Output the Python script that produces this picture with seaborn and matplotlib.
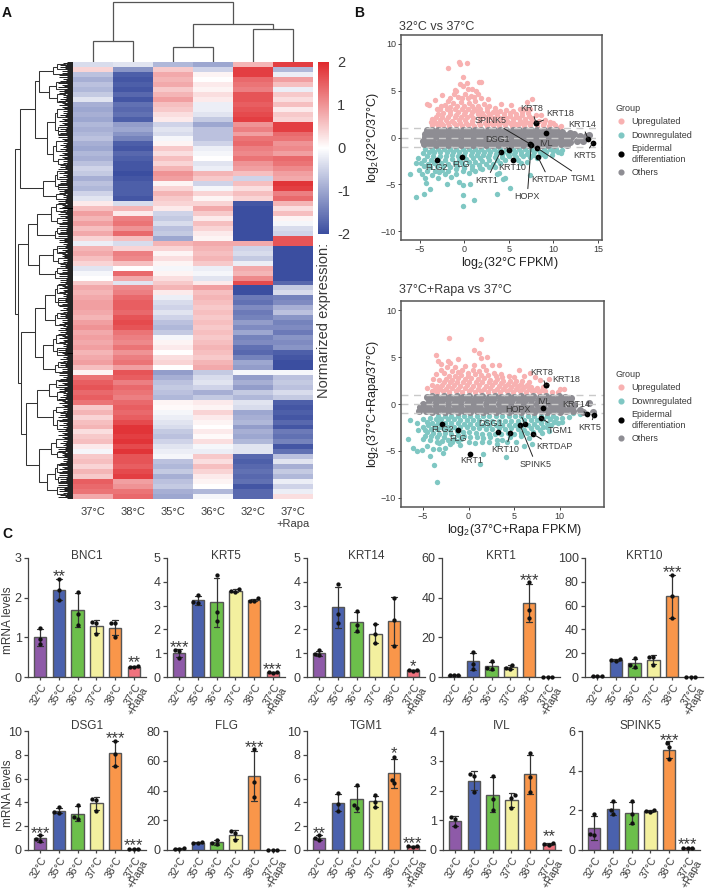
import matplotlib
matplotlib.use("Agg")
import matplotlib.pyplot as plt
from matplotlib.colors import LinearSegmentedColormap
from matplotlib.lines import Line2D
import numpy as np
import pandas as pd
import seaborn as sns

sns.set_style("white")
plt.rcParams['font.family'] = ['Liberation Sans', 'DejaVu Sans']
plt.rcParams['mathtext.fontset'] = 'custom'
plt.rcParams['mathtext.rm'] = 'Liberation Sans'
plt.rcParams['mathtext.default'] = 'regular'

W, H = 709, 890
TXT = '#3a3a3a'
DEG = '\u00b0C'

# ---------- panel A data ----------
HEAT_COLS = ['37' + DEG, '38' + DEG, '35' + DEG, '36' + DEG, '32' + DEG, '37' + DEG + '\n+Rapa']
HEAT = [
[-.4,-.3,-.8,-1,.7,1.8],[.4,-1.2,.5,-.5,1.8,-.8],[-.7,-1.8,.8,.1,1.8,-.2],[-.9,-1.9,.7,.0,1.4,.9],
[-.7,-1.8,.8,.2,1.3,.6],[-.8,-1.9,.5,.1,1.2,-.2],[-.6,-1.7,.7,.3,1.6,.5],[-.3,-1.9,.9,.2,1.6,.3],
[-.9,-1.6,.6,-.2,1.5,.6],[-1.0,-1.7,.5,-.2,1.6,.2],[-.9,-1.6,.3,-.3,1.7,.5],[-1.0,-1.8,.2,-.6,1.8,.4],
[-.8,-1.1,-.5,-1.0,1.0,1.8],[-.9,-1.0,-.3,-.7,1.2,1.8],[-.8,-1.2,-.4,-.7,.9,1.4],[-.7,-1.4,-.1,-.7,1.3,1.3],
[-.9,-1.8,.1,-.5,1.4,1.0],[-1.0,-1.9,.5,-.2,1.2,1.1],[-.8,-1.7,.3,-.1,1.1,.9],[-.9,-1.8,.6,-.0,1.3,1.4],
[-.7,-1.9,.4,-.3,1.0,1.3],[-.5,-1.9,.7,-.2,.9,1.1],[-.6,-2.0,1.0,.7,.6,.9],[-.9,-1.9,.9,.5,-.5,.8],
[-.7,-1.8,.1,-.5,.6,1.9],[-.8,-1.8,.4,-.1,.3,1.8],[-.5,-1.8,.7,.4,.6,1.2],[-.3,-1.9,.5,.1,.4,1.4],
[.2,-.4,.4,.4,-1.9,.7],[.6,.7,.2,.8,-2,.3],[.9,.2,-.5,.5,-2,.6],[.7,1.2,-.6,.2,-2,.1],
[.9,1.3,-.4,.6,-2,-.1],[.6,1.0,-.7,.4,-2,-.4],[.8,1.4,-.6,.2,-2,-.5],[.4,.6,-1,.1,-2,1.6],
[-.2,-.4,.7,.8,.8,1.6],[.7,.4,.4,.7,-.5,-2],[.8,1.2,.1,.6,-.4,-2],[.6,1.1,.3,.7,-.6,-2],
[.4,.6,.1,.5,-.2,-2],[-.3,0,-.1,-.2,.8,-2],[-.1,1.4,.1,-.1,.7,-2],[.0,.8,.3,-.3,1.1,-2],
[.5,-.3,.5,.2,1.7,-1.7],[.8,1.1,.7,.9,-2,-.6],[.7,1.2,.2,.6,-2,-.4],[.8,1.4,-.2,.7,-1.5,-1.4],
[.9,1.5,-.4,.6,-1.6,-1.3],[.9,1.5,-.5,.5,-1.3,-.9],[.8,1.4,-.3,.6,-1.5,-.7],[.7,1.6,-.5,.5,-1.4,-1.2],
[.9,1.7,-.7,.6,-1.1,-1.4],[1.0,1.6,-.8,.5,-1.3,-1.3],[.8,1.3,-.6,.6,-1.0,-1.5],[.9,1.2,-.1,.5,-1.4,-1.2],
[.8,1.1,.1,.6,-1.3,-1.3],[.9,1.3,.2,.7,-1.6,-1.2],[.7,1.0,.0,.6,-1.7,-1.8],[.8,1.2,.3,.5,-1.4,-1.9],
[.9,1.3,.4,.7,-1.0,-2],[.6,.9,.0,.8,-1.1,-2],[.1,1.6,-1.1,-.6,-.1,-.1],[1.3,1.5,-.9,-.4,-1.1,-.7],
[1.5,1.2,-.7,-.3,-.9,-.6],[1.6,1.4,-.6,-.5,-1.1,-.7],[1.4,1.3,-.7,-.9,-.6,-.4],[1.5,1.2,-.8,-.6,-.8,-.6],
[1.3,1.4,.1,.2,-.3,-1.8],[.5,1.5,.05,.1,-.4,-1.9],[.7,1.4,-.1,.4,-1,-1.8],[.4,1.5,-.2,.2,-.9,-1.9],
[.6,1.7,-.3,.1,-.8,-1.7],[.7,1.9,-.4,.0,-1.1,-1.9],[.3,1.9,-.6,.2,-.9,-1.5],[.5,1.8,-.7,.05,-1.0,-1.6],
[.6,1.9,-.5,.3,-.8,-1.4],[.2,1.7,-.3,-.1,-.3,-1.9],[-.1,1.9,-.2,-.2,-.3,-1.6],[.5,1.6,-.1,.5,-1.7,-.7],
[.6,1.6,-.7,.3,-1.8,-.3],[.4,1.5,-.8,.6,-1.7,-.9],[.7,1.7,-.6,.4,-1.6,-.6],[.5,1.8,-.9,.2,-1.7,-.8],
[1.5,.9,-.7,.1,-1.6,-.2],[1.4,1.0,-.6,.0,-1.9,-.5],[1.3,1.3,-.9,-.8,-1.7,-.2],[.8,1.4,-1,-.1,-1.7,.3],
]
# column dendrogram: (height, left, right); ints are columns
COL_TREE = (60, (21, 0, 1), (38, (15, 2, 3), (33, 4, 5)))
# row dendrogram: (height, upper, lower); ints are numbers of heat-map rows in a leaf
G1 = (53, (38, (34, (20, (16, 1, 1), 1), (24, (17, 2, 1), (16, 1, 2))),
               (26, (18, (16, 1, 2), (15, 2, 1)), (20, (17, 2, 2), (15, 1, 1)))),
      (30, (18, (16, 2, 1), (15, 1, 1)), (17, 1, 1)))
G2 = (36, (22, (17, 1, 2), (16, 1, 1)), (18, (16, 1, 1), 1))
G3 = (34, (20, (16, 2, 1), (15, 1, 1)), (18, (16, 1, 1), 1))
G4 = (38, (28, (18, (16, 2, 1), (15, 1, 2)), (18, (16, 1, 1), 2)),
      (30, (20, (17, 2, 1), (16, 1, 2)), (18, (15, 1, 1), 1)))
G5 = (47, (36, (24, (17, 2, 1), (16, 1, 2)), (20, (17, 1, 1), (16, 2, 2))),
      (34, (22, (17, 2, 1), (16, 1, 1)), (26, (18, (16, 2, 1), (15, 1, 1)), (16, 1, 2))))
ROW_TREE = (58, G1, (55, (45, G2, G3), (52, G4, G5)))
LEAF_DEPTHS = [6, 10, 7, 13, 8, 15, 6, 11, 9, 14]

# ---------- panel B data ----------
B1_UP = [(-.67,8.07),(-.52,7.9),(.34,7.93),(-1.87,7.4),(-.22,6.46),(-.5,5.75),(.3,5.8),(-.15,5.5),(1.65,5.96),(1.87,5.96),
(1.27,5),(.45,5.2),(-1.08,5.1),(-2.47,4.5),(-3.3,3.96),(-4.26,3.57),(-4,3.5),(-3.14,3),(-3.7,2),(-3.78,1.7),(7.6,4.1),(7.07,3.75),
(4.15,3.6),(5.27,3.5),(8.6,2.43),(10.7,1.1),(-1.2,4.6),(-.7,4.3),(.1,4.7),(.7,4.4),(1.5,4.6),(1.9,4.2),(-1.9,3.9),(-1.3,3.7),(-.4,3.8),
(.5,3.7),(1.2,3.9),(2.2,3.6),(2.8,3.4),(3.4,3.2),(-2.6,3.4),(-2,3.1),(-1.1,3),(-.3,3.1),(.4,3),(1.1,3.1),(1.8,3),(2.5,2.8),(3.2,2.7),(4,2.8),
(4.7,2.9),(5.5,2.8),(6.2,3),(6.8,3.1),(7.4,3),(-3,2.5),(-2.4,2.6),(-1.6,2.5),(-.9,2.4),(-.1,2.5),(.7,2.4),(1.5,2.5),(2.2,2.3),(3,2.2),(3.7,2.4),
(4.4,2.2),(5.1,2.3),(5.8,2.2),(6.5,2.4),(7.2,2.3),(8,2.4),(-3.4,1.8),(-2.8,1.9),(-2.1,1.9),(-1.4,1.8),(-.6,1.9),(.1,1.9),(.9,1.8),(1.7,1.9),
(2.5,1.7),(3.3,1.8),(4.1,1.7),(4.8,1.8),(5.5,1.7),(6.2,1.8),(6.9,1.7),(7.6,1.8),(8.4,1.8),(9,1.9),(9.6,1.7),(-3.6,1.3),(-3,1.25),(-2.4,1.3),
(-1.7,1.25),(-1,1.3),(-.3,1.25),(.4,1.3),(1.1,1.25),(1.8,1.3),(2.5,1.25),(3.2,1.3),(3.9,1.25),(4.6,1.3),(5.3,1.25),(6,1.3),(6.7,1.25),(7.4,1.3),
(8.1,1.25),(8.8,1.3),(9.5,1.25),(10.2,1.3),(10.9,1.2)]
B1_UP_FILL = [(-3.2,1.6),(-2.6,1.55),(-1.9,1.6),(-1.2,1.55),(-.5,1.6),(.2,1.55),(.9,1.5),(1.6,1.55),(2.3,1.5),(3,1.55),(3.7,1.5),(4.4,1.55),(5.1,1.5),(5.8,1.45),
(6.5,1.5),(7.2,1.5),(8.9,1.55),(9.9,1.5),(-3.2,2.2),(-2.5,2.2),(-1.8,2.15),(-1.1,2.15),(-.4,2.2),(.3,2.15),(1,2.1),(1.7,2.2),(2.5,2.1),(3.3,2.05),(4,2.05),(4.7,2.05),
(5.4,2),(6.1,2.05),(6.8,2),(7.5,2.05),(-2.7,3),(-1.6,2.8),(-.7,2.75),(.1,2.75),(.8,2.7),(1.4,2.85),(2,2.6),(2.8,2.5),(3.6,2.7),(4.4,2.55),(5.1,2.6),(5.8,2.5),(6.5,2.7),
(7.1,2.65),(-2.2,3.5),(-1.6,3.3),(-.8,3.4),(0,3.4),(.8,3.35),(1.5,3.4),(2.5,3.2),(-1.6,4.2),(-.3,4.2),(.4,4.2),(1.1,4.3),(2.6,4.1),(-.9,5),(.9,5.2)]
B1_DOWN = [(-6.13,-3.86),(-5.46,-6.4),(-4.5,-6),(-3.85,-5.5),(-.2,-5.07),(-.2,-6.1),(-.2,-7.3),(1.05,-6.7),(-.6,-4.8),(.6,-5),(3.66,-6),(5.15,-5.4),
(4.56,-4.3),(4.3,-4.4),(7.33,-4),(-2,-5),(-3,-4.35),(-4.3,-4.9),(-5.1,-3.5),(-5.4,-2.75),(3.6,-3.9),(3.9,-3.8),(-4.8,-3.9),(-4.4,-4.3),(-3.7,-4),
(-2.9,-3.7),(-2.2,-3.9),(-1.5,-4.2),(-.9,-3.9),(-.2,-3.6),(.5,-3.8),(1.2,-3.6),(2,-3.4),(-4.6,-3.1),(-3.9,-3.2),(-3.1,-3.1),(-2.4,-3.1),(-1.6,-3.2),
(-.8,-3),(0,-3),(.8,-3),(1.6,-2.9),(2.4,-2.8),(3.2,-2.8),(4,-2.7),(6.3,-2.7),(7,-2.6),(-5.2,-2.2),(-4.5,-2.4),(-3.8,-2.4),(-3,-2.3),(-2.2,-2.4),
(-1.4,-2.3),(-.6,-2.4),(.2,-2.3),(1,-2.2),(1.8,-2.2),(2.6,-2.1),(3.4,-2.1),(4.2,-2.1),(5,-2),(5.8,-2.1),(6.6,-2),(7.4,-2.1),(8.2,-2.2),(9,-2),(9.8,-1.9),
(10.9,-1.7),(-4.7,-1.7),(-4,-1.5),(-3.4,-1.6),(-2.7,-1.5),(-2,-1.6),(-1.3,-1.5),(-.6,-1.6),(.1,-1.5),(.8,-1.6),(1.5,-1.5),(2.2,-1.5),(2.9,-1.6),
(3.6,-1.5),(4.3,-1.5),(5,-1.6),(5.7,-1.5),(6.4,-1.5),(7.1,-1.6),(7.8,-1.5),(8.5,-1.5),(9.2,-1.5),(9.9,-1.4),(10.5,-1.5)]
B1_DOWN_FILL = [(-4.4,-1.25),(-3.7,-1.25),(-3,-1.2),(-2.3,-1.25),(-1.6,-1.2),(-.9,-1.25),(-.2,-1.2),(.5,-1.25),(1.2,-1.2),(1.9,-1.25),(2.6,-1.2),(3.3,-1.25),(4,-1.2),
(4.7,-1.25),(5.4,-1.2),(6.1,-1.25),(6.8,-1.2),(7.5,-1.25),(8.2,-1.2),(8.9,-1.25),(9.6,-1.2),(10.3,-1.2),(11,-1.3),(-4.2,-2),(-3.5,-1.95),(-2.8,-1.95),(-2.1,-2),(-1.4,-1.9),(-.7,-1.95),
(0,-1.9),(.7,-1.9),(1.4,-1.85),(2.1,-1.85),(2.8,-1.85),(3.5,-1.8),(4.2,-1.8),(4.9,-1.8),(5.6,-1.8),(6.3,-1.8),(7,-1.8),(7.7,-1.85),(8.7,-1.8),(-4.9,-2.7),(-4.1,-2.8),(-3.4,-2.7),(-2.6,-2.7),
(-1.9,-2.8),(-1.1,-2.7),(-.3,-2.7),(.5,-2.6),(1.2,-2.6),(2,-2.5),(2.8,-2.45),(3.6,-2.4),(4.5,-2.4),(6,-2.4),(-4.2,-3.6),(-3.3,-3.6),(-2.5,-3.5),(-1.8,-3.6),(-1,-3.4),(0,-3.3),(.9,-3.4),(1.7,-3.3),(2.7,-3.2),(3.4,-3.2)]
B1_OTHER = [(-4.2,.75),(-3.6,.8),(-3,.75),(-2.3,.8),(-1.6,.75),(-.9,.8),(-.2,.75),(.5,.8),(1.2,.75),(1.9,.8),(2.6,.75),(3.3,.8),(4,.75),(4.7,.8),(5.4,.75),
(6.1,.8),(6.8,.75),(7.5,.8),(8.2,.75),(8.9,.8),(9.6,.75),(10.3,.75),(11,.6),(-4.4,.05),(-3.7,-.05),(-3,.05),(-2.3,0),(-1.6,.05),(-.9,-.05),(-.2,.05),
(.5,0),(1.2,.05),(1.9,-.05),(2.6,.05),(3.3,0),(4,.05),(4.7,-.05),(5.4,.05),(6.1,0),(6.8,.05),(7.5,-.05),(8.2,.05),(8.9,0),(9.6,.05),(10.3,-.05),(11,.05),
(11.6,-.1),(-4.6,-.7),(-3.9,-.75),(-3.2,-.75),(-2.5,-.8),(-1.8,-.75),(-1.1,-.8),(-.4,-.75),(.3,-.8),(1,-.75),(1.7,-.8),(2.4,-.75),(3.1,-.8),(3.8,-.75),
(4.5,-.8),(5.2,-.75),(5.9,-.8),(6.6,-.75),(7.3,-.8),(8,-.75),(8.7,-.8),(9.4,-.75),(10.1,-.8),(10.8,-.7),(11.5,-.75),(-4.7,-.4),(12.3,.4),(12.6,-.35),
(13,.2),(13.3,-.4),(13.7,.2),(14,.3),(12,.1),(-4.4,.4),(11.8,.5)]
B1_OTHER_FILL = [(-4,.4),(-3.3,.4),(-2.6,.4),(-1.9,.4),(-1.2,.4),(-.5,.4),(.2,.4),(.9,.4),(1.6,.4),(2.3,.4),(3,.4),(3.7,.4),(4.4,.4),(5.1,.4),(5.8,.4),(6.5,.4),(7.2,.4),(7.9,.4),(8.6,.4),
(9.3,.4),(10,.4),(10.7,.4),(11.3,.3),(-4.2,-.4),(-3.5,-.4),(-2.8,-.4),(-2.1,-.4),(-1.4,-.4),(-.7,-.4),(0,-.4),(.7,-.4),(1.4,-.4),(2.1,-.4),(2.8,-.4),(3.5,-.4),(4.2,-.4),(4.9,-.4),
(5.6,-.4),(6.3,-.4),(7,-.4),(7.7,-.4),(8.4,-.4),(9.1,-.4),(9.8,-.4),(10.5,-.4),(11.2,-.4),(11.8,-.5)]
B1_MARK = {'FLG2':(-3.1,-2.43),'FLG':(-.3,-2.04),'KRT1':(4.07,-1.5),'KRT10':(5.4,-2.43),'DSG1':(5.05,-1.3),'SPINK5':(7.36,-.68),
'HOPX':(7.5,-.8),'IVL':(9.15,.43),'TGM1':(8.2,-1.14),'KRTDAP':(8.26,-2.1),'KRT8':(8.04,1.54),'KRT18':(8.04,1.54),'KRT14':(13.9,-.18),'KRT5':(14.43,-.54)}
B1_LABEL = {'FLG2':(-3.1,-3.2),'FLG':(-.35,-2.85),'KRT1':(2.47,-4.57),'KRT10':(5.4,-3.2),'DSG1':(3.66,-.25),'SPINK5':(2.95,1.8),
'HOPX':(7.05,-6.3),'IVL':(9.2,-.6),'TGM1':(13.35,-4.4),'KRTDAP':(9.5,-4.5),'KRT8':(7.55,3.07),'KRT18':(10.8,2.6),'KRT14':(13.2,1.43),'KRT5':(13.5,-1.96)}

B2_UP = [(-2.18,7),(1.4,6.9),(.55,5.7),(-3.54,5.2),(1.1,5.4),(-1.1,4.8),(-3.3,4.6),(-2.2,4.55),(-3,4.3),(1.4,4.9),(2,5),(2.6,4.2),(3.3,4.1),(5.5,3.6),(6.7,3.3),
(8.85,2.7),(10.5,1.6),(10,1.6),(-4.5,1.7),(-3.87,2.7),(-3.6,3.2),(-2.4,3.9),(-2.7,3.3),(-1.8,3.5),(-1.2,3.4),(-.7,3.6),(-.1,3.3),(.5,3.6),(1.1,3.5),
(1.9,3.6),(2.8,3.3),(3.6,3.2),(4.4,3),(6.1,3),(7.3,2.9),(7.8,2.6),(-3.2,2.6),(-2.5,2.7),(-1.8,2.6),(-1.1,2.8),(-.4,2.7),(.3,2.8),(1,2.7),(1.7,2.8),(2.4,2.6),
(3.1,2.7),(3.8,2.5),(4.5,2.4),(5.2,2.5),(5.9,2.4),(6.6,2.3),(-4,2),(-3.5,1.9),(-2.9,2),(-2.3,1.9),(-1.6,2),(-.9,1.9),(-.2,2),(.5,1.9),(1.2,2),(1.9,1.9),(2.6,2),
(3.3,1.9),(4,1.9),(4.7,1.8),(5.4,1.9),(6.1,1.8),(6.8,1.8),(7.5,1.7),(8.2,1.8),(-4,1.35),(-3.4,1.3),(-2.8,1.35),(-2.1,1.3),(-1.4,1.35),(-.7,1.3),(0,1.35),(.7,1.3),
(1.4,1.35),(2.1,1.3),(2.8,1.35),(3.5,1.3),(4.2,1.35),(4.9,1.3),(5.6,1.35),(6.3,1.3),(7,1.35),(7.7,1.3),(8.4,1.35),(9.1,1.3),(9.8,1.25)]
B2_UP_FILL = [(-3.7,1.6),(-3.1,1.6),(-2.5,1.6),(-1.8,1.65),(-1.1,1.6),(-.4,1.65),(.3,1.6),(1,1.6),(1.7,1.6),(2.4,1.65),(3.1,1.6),(3.8,1.6),(4.5,1.55),(5.2,1.6),(5.9,1.55),
(6.6,1.55),(7.3,1.5),(8,1.5),(-2.7,2.3),(-2,2.3),(-1.3,2.35),(-.6,2.35),(.1,2.35),(.8,2.3),(1.5,2.35),(2.2,2.3),(2.9,2.3),(3.6,2.2),(4.3,2.15),(5,2.15),(5.7,2.1),(6.4,2.05),
(-2.1,3),(-1.5,3),(-.8,3.1),(-.1,3),(.7,3.15),(1.4,3.1),(2.1,3.1),(3,3),(3.7,2.9),(5,2.9),(-1.5,3.9),(-.4,4),(.6,4.1),(1.6,4),(-3,3.6),(-2,4.4)]
B2_DOWN = [(-6.64,-3.75),(-6.46,-1.73),(-6.1,-4.73),(-5.6,-5),(-5.1,-4.9),(-4.17,-5.5),(-3.76,-6.5),(-3.5,-8.27),(1.3,-6.4),(1.6,-5.3),(4.06,-5.6),(6.1,-4.5),(7,-4.3),
(3.7,-3.85),(4.2,-4),(5.2,-4),(-2.6,-4.7),(-1.85,-4),(12.2,-1.1),(11.5,-1),(-5.5,-2.8),(-5,-3.7),(-4.6,-4.5),(-3.9,-4.8),(-3.2,-4.8),(-2.8,-5.2),(-4.2,-3.8),(-3.5,-4),(-2.9,-3.9),
(-2.2,-3.8),(-1.2,-3.9),(-5.6,-2),(-5,-2.4),(-4.5,-3),(-3.9,-3.1),(-3.2,-3.2),(-2.6,-3.1),(-1.9,-3.2),(-1.2,-3.3),(-.5,-3.4),(.2,-3.5),(.9,-3.5),(1.6,-3.6),(2.4,-3.5),(3.1,-3.8),(4.6,-3.5),
(5.8,-3.4),(6.6,-3.6),(8,-3.1),(8.8,-2.9),(-5,-1.6),(-4.4,-2.2),(-3.7,-2.3),(-3,-2.4),(-2.3,-2.4),(-1.6,-2.4),(-.9,-2.4),(-.2,-2.5),(.5,-2.6),(1.2,-2.6),(1.9,-2.7),(2.6,-2.7),(3.3,-2.6),
(4,-2.7),(4.7,-2.6),(5.4,-2.7),(6.1,-2.8),(6.8,-2.6),(7.5,-2.5),(8.2,-2.4),(9,-2.2),(9.8,-2),(-4.2,-1.5),(-3.6,-1.6),(-3,-1.6),(-2.3,-1.6),(-1.6,-1.6),(-.9,-1.7),(-.2,-1.7),(.5,-1.7),
(1.2,-1.7),(1.9,-1.8),(2.6,-1.8),(3.3,-1.8),(4,-1.8),(4.7,-1.8),(5.4,-1.8),(6.1,-1.7),(6.8,-1.7),(7.5,-1.7),(8.2,-1.6),(8.9,-1.6),(9.6,-1.5),(10.3,-1.5),(11,-1.4),(-3.3,-1.25),(-2.6,-1.25),
(-1.9,-1.25),(-1.2,-1.25),(-.5,-1.25),(.2,-1.25),(.9,-1.25),(1.6,-1.25),(2.3,-1.25),(3,-1.25),(3.7,-1.25),(4.4,-1.25),(5.1,-1.25),(5.8,-1.25),(6.5,-1.25),(7.2,-1.25),(7.9,-1.25),(8.6,-1.25),(9.3,-1.25)]
B2_DOWN_FILL = [(-4.6,-1.9),(-4,-2),(-3.3,-2),(-2.6,-2),(-1.9,-2),(-1.2,-2.05),(-.5,-2.1),(.2,-2.1),(.9,-2.15),(1.6,-2.2),(2.3,-2.25),(3,-2.25),(3.7,-2.25),(4.4,-2.25),(5.1,-2.25),(5.8,-2.3),(6.5,-2.2),
(7.2,-2.1),(7.9,-2),(8.6,-2),(9.4,-1.9),(10.2,-1.9),(-4.8,-2.8),(-4.1,-2.7),(-3.4,-2.7),(-2.7,-2.7),(-2,-2.8),(-1.3,-2.85),(-.6,-2.95),(.1,-3),(.8,-3.05),(1.5,-3.15),(2.2,-3.2),(2.9,-3.2),(3.6,-3.2),(4.3,-3.1),(5,-3.2),
(5.7,-3.1),(6.4,-3.1),(7.1,-3),(7.8,-2.8),(8.6,-2.5),(-4.8,-3.4),(-4.1,-3.45),(-3.4,-3.5),(-2.7,-3.5),(-1.6,-3.7),(-.8,-3.7),(0,-4),(.7,-4.1),(1.5,-4),(2.2,-4),(3.1,-4.3),(-3.2,-4.2),(-2,-4.3),(-.9,-4.4)]
B2_OTHER = [(-4.6,.75),(-4,.8),(-3.4,.75),(-2.7,.8),(-2,.75),(-1.3,.8),(-.6,.75),(.1,.8),(.8,.75),(1.5,.8),(2.2,.75),(2.9,.8),(3.6,.75),(4.3,.8),(5,.75),(5.7,.8),(6.4,.75),(7.1,.8),(7.8,.75),
(8.5,.8),(9.2,.75),(9.9,.8),(10.6,.75),(11.2,.6),(-5,.05),(-4.4,-.05),(-3.7,.05),(-3,0),(-2.3,.05),(-1.6,-.05),(-.9,.05),(-.2,0),(.5,.05),(1.2,-.05),(1.9,.05),(2.6,0),(3.3,.05),(4,-.05),(4.7,.05),
(5.4,0),(6.1,.05),(6.8,-.05),(7.5,.05),(8.2,0),(8.9,.05),(9.6,-.05),(10.3,.05),(11,0),(11.6,-.1),(-5.4,-.75),(-4.7,-.75),(-4,-.8),(-3.3,-.75),(-2.6,-.8),(-1.9,-.75),(-1.2,-.8),(-.5,-.75),(.2,-.8),(.9,-.75),
(1.6,-.8),(2.3,-.75),(3,-.8),(3.7,-.75),(4.4,-.8),(5.1,-.75),(5.8,-.8),(6.5,-.75),(7.2,-.8),(7.9,-.75),(8.6,-.8),(9.3,-.75),(10,-.8),(10.7,-.75),(11.4,-.7),(-5.3,-.3),(12.2,-.6),(12.6,-.8),(13.2,.1),(13.6,-.9)]
B2_OTHER_FILL = [(-4.3,.4),(-3.6,.4),(-2.9,.4),(-2.2,.4),(-1.5,.4),(-.8,.4),(-.1,.4),(.6,.4),(1.3,.4),(2,.4),(2.7,.4),(3.4,.4),(4.1,.4),(4.8,.4),(5.5,.4),(6.2,.4),(6.9,.4),(7.6,.4),(8.3,.4),
(9,.4),(9.7,.4),(10.4,.4),(11.1,.4),(-5,-.4),(-4.3,-.4),(-3.6,-.4),(-2.9,-.4),(-2.2,-.4),(-1.5,-.4),(-.8,-.4),(-.1,-.4),(.6,-.4),(1.3,-.4),(2,-.4),(2.7,-.4),(3.4,-.4),(4.1,-.4),(4.8,-.4),
(5.5,-.4),(6.2,-.4),(6.9,-.4),(7.6,-.4),(8.3,-.4),(9,-.4),(9.7,-.4),(10.4,-.4),(11.1,-.4)]
B2_MARK = {'FLG2':(-2.88,-2.08),'FLG':(-1.2,-2.8),'KRT1':(.18,-5.27),'KRT10':(4.6,-3.07),'DSG1':(3.28,-2.97),'SPINK5':(5.65,-2.26),'HOPX':(6.2,-2.12),
'IVL':(8.19,-.46),'TGM1':(7.9,-1.45),'KRTDAP':(7.08,-3.2),'KRT8':(8.45,1.98),'KRT18':(8.45,1.98),'KRT14':(12.95,-1.1),'KRT5':(13.76,-1.17)}
B2_LABEL = {'FLG2':(-2.8,-2.76),'FLG':(-1.18,-3.64),'KRT1':(.3,-6),'KRT10':(4.06,-4.84),'DSG1':(2.44,-2.05),'SPINK5':(7.38,-6.4),'HOPX':(5.42,-.57),
'IVL':(8.23,.25),'TGM1':(10,-2.8),'KRTDAP':(9.4,-4.56),'KRT8':(7.97,3.3),'KRT18':(10.7,2.65),'KRT14':(11.8,0),'KRT5':(13.25,-2.5)}

# ---------- panel C data ----------
CONDS = ['32', '35', '36', '37', '38', 'R']
COND_LABELS = ['32' + DEG, '35' + DEG, '36' + DEG, '37' + DEG, '38' + DEG, '37' + DEG + '\n+Rapa']
COND_COLORS = ['#8e5aa8', '#4a61ad', '#6cbf4b', '#f3f09f', '#f9964a', '#f0727e']
BNC1 = [[1.24,.95,.82],[2.47,2.2,1.93],[2.15,1.6,1.3],[1.38,1.36,1.08],[1.37,1.35,1.02],[.27,.26,.24]]
KRT5 = [[1.12,1.1,.8],[3.45,3.1,3.15],[4.3,2.75,2.35],[3.7,3.6,3.58],[3.3,3.2,3.2],[.22,.2,.15]]
KRT14 = [[1.12,.95,.93],[3.9,2.65,2.25],[2.78,2.2,1.95],[2.24,1.8,1.43],[3.33,2.4,1.3],[.3,.3,.27]]
KRT1 = [[1.2,1,.8],[12.6,6.7,4.2],[8,4.7,4.2],[6.2,4.7,4.2],[48,34,30],[.1,.1,.1]]
KRT10 = [[1.2,1,.9],[15,14.5,13.5],[16,10,8.5],[16.5,16.5,10],[86,68,49.5],[.1,.1,.1]]
DSG1 = [[1.3,.9,.75],[3.6,3.2,3.15],[3.8,2.8,2.6],[4.25,4.2,3.3],[9.2,8.1,7.1],[.05,.05,.05]]
FLG = [[1.2,.9,.8],[5.2,4.8,4.5],[7,4.5,4],[12.5,11.5,7],[68,45.5,35.5],[.1,.1,.1]]
TGM1 = [[1.3,1,.85],[4.75,3.9,3.3],[5.5,3.8,3.5],[4.6,4.05,3.65],[7.8,5.9,5.6],[.33,.32,.28]]
IVL = [[1.1,1.05,.8],[2.55,2.5,1.95],[2.5,1.7,1.35],[1.85,1.75,1.4],[3.25,2.45,1.95],[.22,.2,.18]]
SPINK5 = [[1.8,.8,.75],[2.45,2,1.8],[2.45,1.8,1.35],[2,1.95,1.9],[5.4,5.2,4.6],[.1,.1,.1]]

fig = plt.figure(figsize=(W / 100, H / 100), dpi=100)

def ax_px(l, t, r, b):
    return fig.add_axes([l / W, 1 - b / H, (r - l) / W, (b - t) / H])

def txt_px(x, y, s, **kw):
    kw.setdefault('color', TXT)
    return fig.text(x / W, 1 - y / H, s, **kw)

txt_px(2, 13, 'A', fontsize=10, fontweight='bold', color='#111', va='center')
txt_px(354, 13, 'B', fontsize=10, fontweight='bold', color='#111', va='center')
txt_px(2, 534, 'C', fontsize=10, fontweight='bold', color='#111', va='center')

# ---------- heat map ----------
cmap = LinearSegmentedColormap.from_list('bwr2', ['#3b4ea0', '#ffffff', '#e02a2e'])
ax_h = ax_px(73, 62, 313, 499)
ax_cb = ax_px(318, 62, 329, 234)
heat_df = pd.DataFrame(HEAT, columns=HEAT_COLS)
sns.heatmap(heat_df, ax=ax_h, cmap=cmap, vmin=-2, vmax=2, cbar_ax=ax_cb, yticklabels=False, xticklabels=True,
            cbar_kws={'ticks': [-2, -1, 0, 1, 2]})
ax_h.tick_params(axis='x', length=0, labelsize=8, labelcolor=TXT, rotation=0, pad=6)
ax_h.tick_params(axis='y', length=0)
ax_h.set_xlabel(''); ax_h.set_ylabel('')
ax_cb.tick_params(length=0, labelsize=10.5, labelcolor=TXT, pad=6)
ax_cb.set_yticklabels(['-2', '-1', '0', '1', '2'])
txt_px(324, 320, 'Normarized expression:', rotation=90, fontsize=10.5, ha='center', va='center')

# column dendrogram
ax_dc = ax_px(73, 0, 313, 62)
ax_dc.set_xlim(0, 6); ax_dc.set_ylim(0, 62); ax_dc.axis('off')
def draw_col(node):
    if isinstance(node, int):
        return node + .5, 0
    h, a, b = node
    xa, ya = draw_col(a); xb, yb = draw_col(b)
    ax_dc.plot([xa, xa, xb, xb], [ya, h, h, yb], color='#555', lw=.9, solid_joinstyle='miter')
    return (xa + xb) / 2, h
draw_col(COL_TREE)

# row dendrogram
ax_dr = ax_px(0, 62, 73, 499)
ax_dr.set_xlim(73, 0); ax_dr.set_ylim(len(HEAT), 0); ax_dr.axis('off')
cursor = [0]
def draw_row(node):
    if isinstance(node, int):
        start = cursor[0]
        cursor[0] += node
        n_lines = node * 5
        for i in range(n_lines):
            d = LEAF_DEPTHS[(start * 3 + i) % len(LEAF_DEPTHS)]
            yy = start + (i + .5) / 5
            ax_dr.plot([0, d], [yy, yy], color='#000', lw=.62, solid_capstyle='butt')
        return start + node / 2, 8.0
    h, a, b = node
    ya, da = draw_row(a); yb, db = draw_row(b)
    ax_dr.plot([da, h, h, db], [ya, ya, yb, yb], color='#333', lw=.75, solid_joinstyle='miter')
    return (ya + yb) / 2, h
draw_row(ROW_TREE)

# ---------- MA plots ----------
C_UP, C_DOWN, C_OTHER = '#f8b1b1', '#7fc7c3', '#8e8d93'

def ma_plot(box, xlim, ylim, xt, up, down, other, marks, labels, title, title_xy, ylab, ylab_x, xlab, xlab_xy, legend_y, nolines):
    ax = ax_px(*box)
    for pts, col, s in ((up, C_UP, 15), (down, C_DOWN, 15), (other, C_OTHER, 26)):
        d = pd.DataFrame(pts, columns=['x', 'y'])
        sns.scatterplot(data=d, x='x', y='y', color=col, s=s, linewidth=0, ax=ax, clip_on=True)
    for v in (-1, 0, 1):
        ax.axhline(v, color='#c9c9c9', lw=1, dashes=(5, 4))
    d = pd.DataFrame(list(marks.values()), columns=['x', 'y'])
    sns.scatterplot(data=d, x='x', y='y', color='#000', s=17, linewidth=0, ax=ax, zorder=5)
    for name, xy in marks.items():
        lab = labels[name]
        ap = None if name in nolines else dict(arrowstyle='-', color='#222', lw=.7, shrinkA=0, shrinkB=0)
        ax.annotate(name, xy=xy, xytext=lab, fontsize=6.5, color=TXT, ha='center', va='center', arrowprops=ap, zorder=6)
    ax.set_xlim(*xlim); ax.set_ylim(*ylim)
    ax.set_xticks(xt); ax.set_yticks([-10, -5, 0, 5, 10])
    ax.set_xticklabels([str(v).replace('-', '\u2212') for v in xt])
    ax.set_yticklabels(['\u221210', '\u22125', '0', '5', '10'])
    ax.tick_params(axis='both', labelsize=6.5, labelcolor=TXT, length=2.2, width=.7, color='#444', pad=1.5, bottom=True, left=True)
    ax.set_xlabel(''); ax.set_ylabel('')
    for sp in ax.spines.values():
        sp.set_color('#555'); sp.set_linewidth(1.1)
    txt_px(title_xy[0], title_xy[1], title, fontsize=9, va='center')
    txt_px(ylab_x, (box[1] + box[3]) / 2, ylab, fontsize=9, rotation=90, ha='center', va='center', color='#222')
    txt_px(xlab_xy[0], xlab_xy[1], xlab, fontsize=9, ha='center', va='center', color='#222')
    handles = [Line2D([], [], marker='o', ls='', color=c, ms=3.4) for c in (C_UP, C_DOWN, '#000', C_OTHER)]
    leg = fig.legend(handles, ['Upregulated', 'Downregulated', 'Epidermal\ndifferentiation', 'Others'], title='Group',
                     loc='upper left', bbox_to_anchor=(614 / W, 1 - legend_y / H), frameon=False, fontsize=6.5,
                     title_fontsize=6.5, alignment='left', labelspacing=.5, handletextpad=.55, handlelength=1.2,
                     labelcolor=TXT, borderaxespad=0, borderpad=.2)
    leg.get_title().set_color(TXT)

ma_plot((401, 35, 602, 240), (-7.13, 15.45), (-10.96, 10.96), [-5, 0, 5, 10, 15], B1_UP + B1_UP_FILL, B1_DOWN + B1_DOWN_FILL, B1_OTHER + B1_OTHER_FILL, B1_MARK, B1_LABEL,
        '32' + DEG + ' vs 37' + DEG, (399, 27), 'log$_2$(32' + DEG + '/37' + DEG + ')', 373,
        'log$_2$(32' + DEG + ' FPKM)', (510, 263), 102, {'FLG2', 'FLG', 'KRT10', 'IVL'})
ma_plot((401, 301, 604, 507), (-7.4, 14.85), (-10.96, 10.96), [-5, 0, 5, 10], B2_UP + B2_UP_FILL, B2_DOWN + B2_DOWN_FILL, B2_OTHER + B2_OTHER_FILL, B2_MARK, B2_LABEL,
        '37' + DEG + '+Rapa vs 37' + DEG, (399, 290), 'log$_2$(37' + DEG + '+Rapa/37' + DEG + ')', 373,
        'log$_2$(37' + DEG + '+Rapa FPKM)', (514, 530), 368, {'FLG2', 'FLG', 'KRT1', 'IVL'})

# ---------- bar panels ----------
def bar_panel(left, top, bottom, title, reps, ymax, ticks, stars, title_gap, ylab=False):
    ax = ax_px(left, top, left + 118, bottom)
    long = pd.DataFrame([(c, v) for c, vals in zip(CONDS, reps) for v in vals], columns=['cond', 'val'])
    sns.barplot(data=long, x='cond', y='val', hue='cond', order=CONDS, hue_order=CONDS, palette=COND_COLORS, saturation=1,
                width=.67, errorbar='sd', capsize=.3, err_kws={'color': '#333', 'linewidth': .9},
                edgecolor='#555', linewidth=1, legend=False, ax=ax)
    sns.swarmplot(data=long, x='cond', y='val', order=CONDS, color='#111', size=3.1, ax=ax, zorder=5, clip_on=False, warn_thresh=1)
    ax.set_xlim(-.64, 5.64); ax.set_ylim(0, ymax)
    ax.set_yticks(ticks)
    ax.set_xticks(range(6))
    ax.set_xticklabels(COND_LABELS, rotation=60, ha='right', rotation_mode='anchor', fontsize=7.4, linespacing=.72)
    ax.tick_params(axis='y', labelsize=9, labelcolor=TXT, length=3, width=.9, color='#444', pad=1.5, left=True)
    ax.tick_params(axis='x', labelcolor=TXT, length=2.5, width=.9, color='#444', pad=1, bottom=True)
    ax.set_xlabel(''); ax.set_ylabel('')
    sns.despine(ax=ax)
    for s in ('left', 'bottom'):
        ax.spines[s].set_color('#444'); ax.spines[s].set_linewidth(.9)
    ax.text(.5, 1 + title_gap, title, transform=ax.transAxes, ha='center', va='center', fontsize=8.5, color=TXT)
    for idx, val, s in stars:
        ax.annotate(s, xy=(idx, val), xytext=(0, -6.7), textcoords='offset points', ha='center', va='baseline',
                    fontsize=12, color=TXT, annotation_clip=False, zorder=6)
    if ylab:
        txt_px(8, (top + bottom) / 2 + 3, 'mRNA levels', rotation=90, fontsize=8.5, ha='center', va='center')

T1, B_1, T2, B_2 = 558, 677, 731, 850
bar_panel(28, T1, B_1, 'BNC1', BNC1, 3, [0, 1, 2, 3], [(1, 2.65, '**'), (5, .48, '**')], .017, True)
bar_panel(167, T1, B_1, 'KRT5', KRT5, 5, range(6), [(0, 1.44, '***'), (5, .53, '***')], .017)
bar_panel(307, T1, B_1, 'KRT14', KRT14, 5, range(6), [(5, .63, '*')], .017)
bar_panel(442, T1, B_1, 'KRT1', KRT1, 60, [0, 20, 40, 60], [(4, 51, '***')], .017)
bar_panel(585, T1, B_1, 'KRT10', KRT10, 100, [0, 20, 40, 60, 80, 100], [(4, 92, '***')], .017)
bar_panel(28, T2, B_2, 'DSG1', DSG1, 10, [0, 2, 4, 6, 8, 10], [(0, 1.74, '***'), (4, 9.8, '***'), (5, .76, '***')], .04, True)
bar_panel(167, T2, B_2, 'FLG', FLG, 80, [0, 20, 40, 60, 80], [(4, 72, '***')], .04)
bar_panel(307, T2, B_2, 'TGM1', TGM1, 10, [0, 2, 4, 6, 8, 10], [(0, 1.82, '**'), (4, 8.5, '*'), (5, .98, '***')], .04)
bar_panel(443, T2, B_2, 'IVL', IVL, 4, [0, 1, 2, 3, 4], [(5, .62, '**')], .04)
bar_panel(582, T2, B_2, 'SPINK5', SPINK5, 6, [0, 2, 4, 6], [(4, 5.77, '***'), (5, .53, '***')], .04)

fig.savefig('out.png', dpi=100)
